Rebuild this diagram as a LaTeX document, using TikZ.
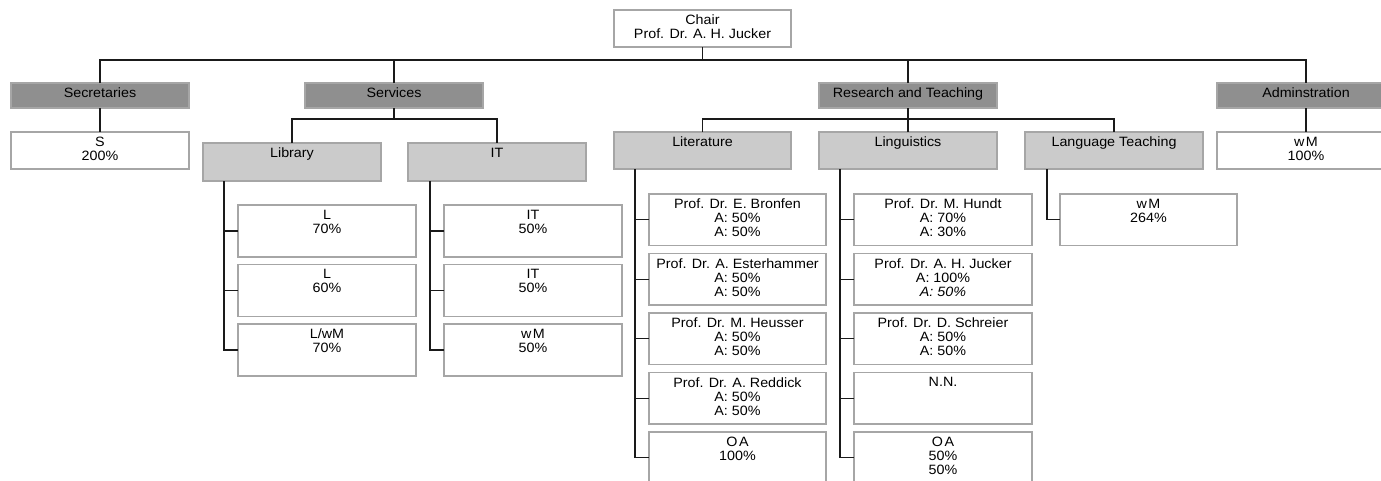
\documentclass[tikz,border=0pt]{standalone}
\usepackage{fontspec}
\setmainfont{Liberation Sans}[FakeStretch=1.06]
\definecolor{dgray}{HTML}{8F8F8F}
\definecolor{lgray}{HTML}{CBCBCB}
\definecolor{boxline}{HTML}{A6A6A6}
\definecolor{linec}{HTML}{1A1A1A}
\tikzset{
 box/.style={draw=boxline, line width=1.1pt, anchor=north west, inner sep=0pt, outer sep=0pt},
 lvlone/.style={box, fill=dgray},
 lvltwo/.style={box, fill=lgray},
 plainbox/.style={box, fill=white},
 txt/.style={anchor=north, inner sep=0pt, align=center, font=\fontsize{13.5}{14}\selectfont},
 link/.style={line width=1.2pt, draw=linec}
}
\newcommand\bx[7]{%
  \node[#6, minimum width=#4pt, minimum height=#5pt] (#1) at (#2,#3) {};
  \node[txt] at ([yshift=-5pt]#1.north) {#7};}
\begin{document}
\begin{tikzpicture}[x=1pt,y=-1pt]
\useasboundingbox (0,0) rectangle (1381,480);
\clip (0,0) rectangle (1381,480);
% top
\bx{chair}{614}{10}{177}{37}{plainbox}{Chair\\Prof. Dr. A. H. Jucker}
% level 1
\bx{sec}{11}{83}{178}{25}{lvlone}{Secretaries}
\bx{serv}{305}{83}{178}{25}{lvlone}{Services}
\bx{rt}{819}{83}{178}{25}{lvlone}{Research and Teaching}
\bx{adm}{1217}{83}{178}{25}{lvlone}{Adminstration}
% level 2
\bx{s}{11}{132}{178}{37}{plainbox}{S\\200\%}
\bx{lib}{203}{143}{178}{38}{lvltwo}{Library}
\bx{it}{408}{143}{178}{38}{lvltwo}{IT}
\bx{lit}{614}{132}{177}{37}{lvltwo}{Literature}
\bx{ling}{819}{132}{178}{37}{lvltwo}{Linguistics}
\bx{lang}{1025}{132}{178}{37}{lvltwo}{Language Teaching}
\bx{adw}{1217}{132}{178}{37}{plainbox}{w\kern1.5pt M\\100\%}
% library children
\bx{la}{238}{205}{178}{52}{plainbox}{L\\70\%}
\bx{lb}{238}{264.5}{178}{52}{plainbox}{L\\60\%}
\bx{lc}{238}{324}{178}{52}{plainbox}{L/wM\\70\%}
% IT children
\bx{ia}{444}{205}{178}{52}{plainbox}{IT\\50\%}
\bx{ib}{444}{264.5}{178}{52}{plainbox}{IT\\50\%}
\bx{ic}{444}{324}{178}{52}{plainbox}{w\kern1.5pt M\\50\%}
% literature children
\bx{ta}{649}{194}{177}{51.5}{plainbox}{Prof. Dr. E. Bronfen\\A: 50\%\\A: 50\%}
\bx{tb}{649}{253.5}{177}{51.5}{plainbox}{Prof. Dr. A. Esterhammer\\A: 50\%\\A: 50\%}
\bx{tc}{649}{313}{177}{51.5}{plainbox}{Prof. Dr. M. Heusser\\A: 50\%\\A: 50\%}
\bx{td}{649}{372.5}{177}{51.5}{plainbox}{Prof. Dr. A. Reddick\\A: 50\%\\A: 50\%}
\bx{te}{649}{432}{177}{51.5}{plainbox}{O\kern1.5pt A\\100\%}
% linguistics children
\bx{ga}{854}{194}{178}{51.5}{plainbox}{Prof. Dr. M. Hundt\\A: 70\%\\A: 30\%}
\bx{gb}{854}{253.5}{178}{51.5}{plainbox}{Prof. Dr. A. H. Jucker\\A: 100\%\\\textit{A: 50\%}}
\bx{gc}{854}{313}{178}{51.5}{plainbox}{Prof. Dr. D. Schreier\\A: 50\%\\A: 50\%}
\bx{gd}{854}{372.5}{178}{51.5}{plainbox}{N.N.}
\bx{ge}{854}{432}{178}{51.5}{plainbox}{O\kern1.5pt A\\50\%\\50\%}
% language teaching child
\bx{wa}{1060}{194}{177}{51.5}{plainbox}{w\kern1.5pt M\\264\%}
% connectors
\coordinate (bus) at (0,60);
\coordinate (busb) at (0,119);
\draw[link] (chair.south) -- (chair.south |- bus);
\draw[link] (sec.north) -- (sec.north |- bus) -- (adm.north |- bus) -- (adm.north);
\draw[link] (serv.north) -- (serv.north |- bus);
\draw[link] (rt.north) -- (rt.north |- bus);
\draw[link] (sec.south) -- (s.north);
\draw[link] (adm.south) -- (adw.north);
\draw[link] (serv.south) -- (serv.south |- busb);
\draw[link] (lib.north) -- (lib.north |- busb) -- (it.north |- busb) -- (it.north);
\draw[link] (rt.south) -- (rt.south |- busb);
\draw[link] (lit.north) -- (lit.north |- busb) -- (lang.north |- busb) -- (lang.north);
\draw[link] (ling.north) -- (ling.north |- busb);
% spines
\coordinate (sl) at (224,0);
\coordinate (si) at (430,0);
\coordinate (st) at (635,0);
\coordinate (sg) at (840,0);
\coordinate (sw) at (1047,0);
\draw[link] (sl |- lib.south) |- (lc.west);
\draw[link] (la.west) -- (la.west -| sl);
\draw[link] (lb.west) -- (lb.west -| sl);
\draw[link] (si |- it.south) |- (ic.west);
\draw[link] (ia.west) -- (ia.west -| si);
\draw[link] (ib.west) -- (ib.west -| si);
\draw[link] (st |- lit.south) |- (te.west);
\foreach \n in {ta,tb,tc,td} \draw[link] (\n.west) -- (\n.west -| st);
\draw[link] (sg |- ling.south) |- (ge.west);
\foreach \n in {ga,gb,gc,gd} \draw[link] (\n.west) -- (\n.west -| sg);
\draw[link] (sw |- lang.south) |- (wa.west);
\end{tikzpicture}
\end{document}
